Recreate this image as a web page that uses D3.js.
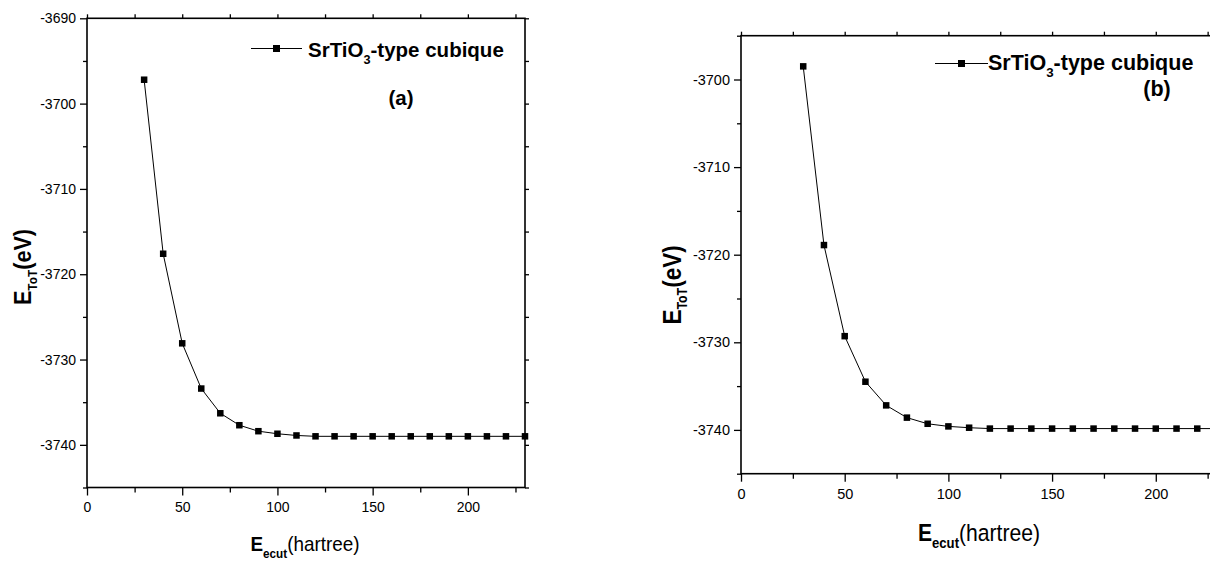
<!DOCTYPE html>
<html>
<head>
<meta charset="utf-8">
<script src="https://cdn.jsdelivr.net/npm/d3@7"></script>
<style>
  html, body { margin: 0; padding: 0; background: #fff; }
  svg { display: block; }
  text { font-family: "Liberation Sans", Arial, sans-serif; fill: #000; }
</style>
</head>
<body>
<svg id="chart" width="1210" height="564"></svg>
<script>
// ---- data ----
const cutoffHartree = [30, 40, 50, 60, 70, 80, 90, 100, 110, 120, 130, 140, 150, 160, 170, 180, 190, 200, 210, 220, 230];
const energyA = [-3697.2, -3717.6, -3728.1, -3733.4, -3736.3, -3737.7, -3738.4, -3738.7, -3738.9, -3739.0, -3739.0, -3739.0, -3739.0, -3739.0, -3739.0, -3739.0, -3739.0, -3739.0, -3739.0, -3739.0, -3739.0];
const energyB = [-3698.5, -3718.9, -3729.3, -3734.5, -3737.2, -3738.6, -3739.3, -3739.6, -3739.75, -3739.85, -3739.85, -3739.85, -3739.85, -3739.85, -3739.85, -3739.85, -3739.85, -3739.85, -3739.85, -3739.85, -3739.85];
const xTickLabels = [0, 50, 100, 150, 200];
const xMinorTicks = [25, 75, 125, 175, 225];
const yTicksA = [-3740, -3730, -3720, -3710, -3700, -3690];
const yMinorA = [-3745, -3735, -3725, -3715, -3705, -3695];
const yTicksB = [-3740, -3730, -3720, -3710, -3700];
const yMinorB = [-3745, -3735, -3725, -3715, -3705, -3695];
const seriesName = ["SrTiO", "3", "-type cubique"];
const panelTags = ["(a)", "(b)"];
const xTitleParts = ["E", "ecut", "(hartree)"];
const yTitleParts = ["E", "ToT", "(eV)"];

const svg = d3.select("#chart");
const fmt = d => String(d); // plain hyphen minus like the original

function drawPanel(cfg) {
  const g = svg.append("g");
  const x = d3.scaleLinear().domain([0, 230]).range([cfg.left, cfg.right]);
  const y = d3.scaleLinear().domain(cfg.yDomain).range([cfg.bottom, cfg.top]);

  const styleAxis = sel => {
    sel.select(".domain").remove();
    sel.selectAll(".tick line").attr("stroke", "#000").attr("stroke-width", 1.3);
    sel.selectAll(".tick text").attr("font-size", cfg.tickFont)
      .attr("font-family", '"Liberation Sans", Arial, sans-serif').attr("fill", "#000");
  };

  // bottom axis
  g.append("g").attr("transform", `translate(0,${cfg.bottom})`)
    .call(d3.axisBottom(x).tickValues(xTickLabels).tickSize(8).tickPadding(7).tickFormat(fmt))
    .call(styleAxis);
  g.append("g").attr("transform", `translate(0,${cfg.bottom})`)
    .call(d3.axisBottom(x).tickValues(xMinorTicks).tickSize(5).tickFormat(""))
    .call(styleAxis);
  // top axis
  g.append("g").attr("transform", `translate(0,${cfg.top})`)
    .call(d3.axisTop(x).tickValues(xTickLabels.concat(xMinorTicks)).tickSize(4).tickFormat(""))
    .call(styleAxis);
  // left axis
  g.append("g").attr("transform", `translate(${cfg.left},0)`)
    .call(d3.axisLeft(y).tickValues(cfg.yTicks).tickSize(7).tickPadding(4).tickFormat(fmt))
    .call(styleAxis);
  g.append("g").attr("transform", `translate(${cfg.left},0)`)
    .call(d3.axisLeft(y).tickValues(cfg.yMinor).tickSize(4).tickFormat(""))
    .call(styleAxis);
  // right axis
  g.append("g").attr("transform", `translate(${cfg.right},0)`)
    .call(d3.axisRight(y).tickValues(cfg.yTicks.concat(cfg.yMinor)).tickSize(4).tickFormat(""))
    .call(styleAxis);

  // frame
  g.append("rect")
    .attr("x", cfg.left).attr("y", cfg.top)
    .attr("width", cfg.right - cfg.left).attr("height", cfg.bottom - cfg.top)
    .attr("fill", "none").attr("stroke", "#000").attr("stroke-width", 1.6);

  const pts = cutoffHartree.map((c, i) => [c, cfg.values[i]]);
  g.append("path").datum(pts)
    .attr("fill", "none").attr("stroke", "#000").attr("stroke-width", 1)
    .attr("d", d3.line().x(d => x(d[0])).y(d => y(d[1])));
  const s = 6.5;
  g.selectAll("rect.pt").data(pts).join("rect").attr("class", "pt")
    .attr("x", d => x(d[0]) - s / 2).attr("y", d => y(d[1]) - s / 2)
    .attr("width", s).attr("height", s).attr("fill", "#000");

  // legend
  const L = cfg.legend;
  g.append("line").attr("x1", L.x1).attr("x2", L.x2).attr("y1", L.y).attr("y2", L.y)
    .attr("stroke", "#000").attr("stroke-width", 1.2);
  g.append("rect").attr("x", (L.x1 + L.x2) / 2 - 3.5).attr("y", L.y - 3.5)
    .attr("width", 7).attr("height", 7).attr("fill", "#000");
  const t = g.append("text")
    .attr("x", L.textX).attr("y", L.textY)
    .attr("font-size", L.font).attr("font-weight", "bold");
  t.append("tspan").text(seriesName[0]);
  t.append("tspan").attr("dy", 7).attr("font-size", L.font * 0.62).text(seriesName[1]);
  t.append("tspan").attr("dy", -7).text(seriesName[2]);
  g.append("text")
    .attr("x", L.tagX).attr("y", L.tagY).attr("text-anchor", "middle")
    .attr("font-size", L.font).attr("font-weight", "bold").text(cfg.tag);

  // x title (slightly condensed)
  const xg = g.append("g")
    .attr("transform", `translate(${cfg.xTitle[0]},${cfg.xTitle[1]}) scale(0.9,1)`);
  const xt = xg.append("text").attr("text-anchor", "middle").attr("font-size", cfg.xTitle[2]);
  xt.append("tspan").attr("font-weight", "bold").text(xTitleParts[0]);
  xt.append("tspan").attr("font-weight", "bold").attr("font-size", cfg.xTitle[2] * 0.62)
    .attr("dy", 7).text(xTitleParts[1]);
  xt.append("tspan").attr("dy", -7).text(xTitleParts[2]);

  // y title (slightly condensed)
  const yg = g.append("g")
    .attr("transform", `translate(${cfg.yTitle[0]},${cfg.yTitle[1]}) rotate(-90) scale(0.9,1)`);
  const yt = yg.append("text").attr("text-anchor", "middle")
    .attr("font-size", cfg.yTitle[2]).attr("font-weight", "bold");
  yt.append("tspan").text(yTitleParts[0]);
  yt.append("tspan").attr("font-size", cfg.yTitle[2] * 0.55).attr("dy", 6).text(yTitleParts[1]);
  yt.append("tspan").attr("dy", -6).text(yTitleParts[2]);
}

drawPanel({
  left: 87, right: 525, top: 18.3, bottom: 487.5,
  yDomain: [-3745, -3690], yTicks: yTicksA, yMinor: yMinorA,
  values: energyA, tag: panelTags[0], tickFont: 14,
  legend: { x1: 251, x2: 302, y: 48.5, textX: 308, textY: 56.5, font: 20.5, tagX: 401, tagY: 105 },
  xTitle: [305, 551, 21], yTitle: [31, 267, 24]
});
drawPanel({
  left: 741, right: 1218, top: 35.7, bottom: 473.7,
  yDomain: [-3745, -3695], yTicks: yTicksB, yMinor: yMinorB,
  values: energyB, tag: panelTags[1], tickFont: 14.5,
  legend: { x1: 935, x2: 988, y: 63.5, textX: 988, textY: 69.5, font: 21.5, tagX: 1157, tagY: 96 },
  xTitle: [979, 541, 23.5], yTitle: [681, 285, 25]
});
</script>
</body>
</html>
